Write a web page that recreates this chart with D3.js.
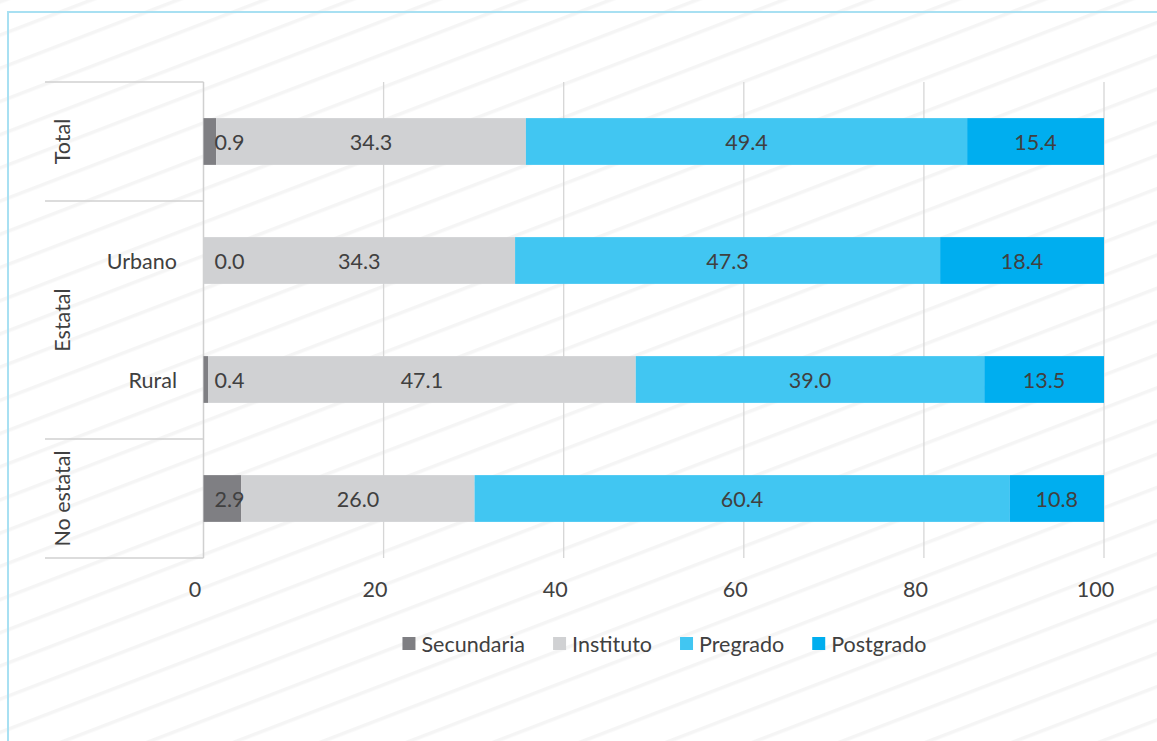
<!DOCTYPE html>
<html>
<head>
<meta charset="utf-8">
<script src="https://cdn.jsdelivr.net/npm/d3@7"></script>
<style>
  html, body { margin: 0; padding: 0; background: #fff; }
  svg { display: block; }
  text { font-family: "Lato", "Open Sans", sans-serif; fill: #404040; }
</style>
</head>
<body>
<svg id="chart" width="1157" height="741"></svg>
<script>
// ---- data ----
const categories = ["Total", "Urbano", "Rural", "No estatal"];
const groupNames = ["Total", "Estatal", "No estatal"];
const groupMembers = [["Total"], ["Urbano", "Rural"], ["No estatal"]];
const innerLabels = ["", "Urbano", "Rural", ""];
const seriesNames = ["Secundaria", "Instituto", "Pregrado", "Postgrado"];
// bar lengths as drawn
const secundaria = [1.4, 0.0, 0.5, 4.2];
const instituto  = [34.4, 34.6, 47.5, 25.9];
const pregrado   = [49.0, 47.2, 38.7, 59.4];
const postgrado  = [15.2, 18.2, 13.3, 10.5];
// data label texts
const secundariaLbl = ["0.9", "0.0", "0.4", "2.9"];
const institutoLbl  = ["34.3", "34.3", "47.1", "26.0"];
const pregradoLbl   = ["49.4", "47.3", "39.0", "60.4"];
const postgradoLbl  = ["15.4", "18.4", "13.5", "10.8"];
const xTicks = [0, 20, 40, 60, 80, 100];
const colors = ["#7f7f83", "#d0d1d3", "#41c6f2", "#00aeef"];

// ---- build ----
const svg = d3.select("#chart");
const W = 1157, H = 741;
const FS = 21.5;

// background stripes
const defs = svg.append("defs");
const pat = defs.append("pattern")
  .attr("id", "stripes").attr("patternUnits", "userSpaceOnUse")
  .attr("width", 40).attr("height", 31)
  .attr("patternTransform", "rotate(-21)");
pat.append("rect").attr("width", 40).attr("height", 31).attr("fill", "#ffffff");
pat.append("rect").attr("y", 0).attr("width", 40).attr("height", 3.5).attr("fill", "#f5f5f5");
svg.append("rect").attr("width", W).attr("height", H).attr("fill", "url(#stripes)");

// border
svg.append("rect").attr("x", 8).attr("y", 12).attr("width", 1300).attr("height", 900)
  .attr("fill", "none").attr("stroke", "#a8e0f2").attr("stroke-width", 2);

const table = categories.map((c, i) => ({
  cat: c,
  Secundaria: secundaria[i], Instituto: instituto[i], Pregrado: pregrado[i], Postgrado: postgrado[i]
}));
const labelTable = [secundariaLbl, institutoLbl, pregradoLbl, postgradoLbl];

const x = d3.scaleLinear().domain([0, 100]).range([203.5, 1104]);
const y = d3.scaleBand().domain(categories).range([82, 558]).paddingInner(0.607).paddingOuter(0.3035);

const stack = d3.stack().keys(seriesNames)(table);

// gridlines
svg.append("g").selectAll("line").data(xTicks.slice(1)).join("line")
  .attr("x1", d => x(d)).attr("x2", d => x(d))
  .attr("y1", 82).attr("y2", 558)
  .attr("stroke", "#d6d6d6").attr("stroke-width", 1.3);

// category axis line
svg.append("line").attr("x1", x(0)).attr("x2", x(0)).attr("y1", 82).attr("y2", 558)
  .attr("stroke", "#d0d0d0").attr("stroke-width", 1.5);

// group separators
const step = y.step();
const bounds = [82];
let acc = 82;
groupMembers.forEach(m => { acc += m.length * step; bounds.push(acc); });
svg.append("g").selectAll("line").data(bounds).join("line")
  .attr("x1", 45).attr("x2", x(0)).attr("y1", d => d).attr("y2", d => d)
  .attr("stroke", "#d0d0d0").attr("stroke-width", 1.5);

// bars
const layers = svg.append("g").selectAll("g").data(stack).join("g")
  .attr("fill", (d, i) => colors[i]);
layers.selectAll("rect").data(d => d).join("rect")
  .attr("x", d => x(d[0]))
  .attr("width", d => x(d[1]) - x(d[0]))
  .attr("y", d => y(d.data.cat))
  .attr("height", y.bandwidth());

// data labels
stack.forEach((layer, si) => {
  svg.append("g").selectAll("text").data(layer).join("text")
    .attr("x", d => si === 0 ? x(0) + 11 : (x(d[0]) + x(d[1])) / 2)
    .attr("y", d => y(d.data.cat) + y.bandwidth() / 2)
    .attr("text-anchor", si === 0 ? "start" : "middle")
    .attr("dominant-baseline", "central")
    .attr("font-size", FS)
    .text((d, i) => labelTable[si][i]);
});

// inner category labels
svg.append("g").selectAll("text").data(categories).join("text")
  .attr("x", 177)
  .attr("y", d => y(d) + y.bandwidth() / 2)
  .attr("text-anchor", "end")
  .attr("dominant-baseline", "central")
  .attr("font-size", FS)
  .text((d, i) => innerLabels[i]);

// outer group labels (rotated)
groupNames.forEach((g, gi) => {
  const yc = (bounds[gi] + bounds[gi + 1]) / 2;
  svg.append("text")
    .attr("transform", `translate(62,${yc}) rotate(-90)`)
    .attr("text-anchor", "middle")
    .attr("dominant-baseline", "central")
    .attr("font-size", FS)
    .text(g);
});

// x tick labels
svg.append("g").selectAll("text").data(xTicks).join("text")
  .attr("x", d => x(d) - 8.5)
  .attr("y", 589)
  .attr("text-anchor", "middle")
  .attr("dominant-baseline", "central")
  .attr("font-size", FS)
  .text(d => d);

// legend
const leg = svg.append("g");
const items = leg.selectAll("g").data(seriesNames).join("g");
items.append("rect").attr("width", 13).attr("height", 13).attr("y", 637)
  .attr("fill", (d, i) => colors[i]);
items.append("text").attr("x", 19).attr("y", 643.5)
  .attr("dominant-baseline", "central").attr("font-size", FS).text(d => d);
let lx = 0;
const widths = [];
items.each(function () {
  const tw = d3.select(this).select("text").node().getComputedTextLength();
  widths.push(19 + tw);
});
const total = d3.sum(widths) + 28 * (widths.length - 1);
lx = 664.5 - total / 2;
items.attr("transform", (d, i) => {
  const t = `translate(${lx},0)`;
  lx += widths[i] + 28;
  return t;
});
</script>
</body>
</html>
